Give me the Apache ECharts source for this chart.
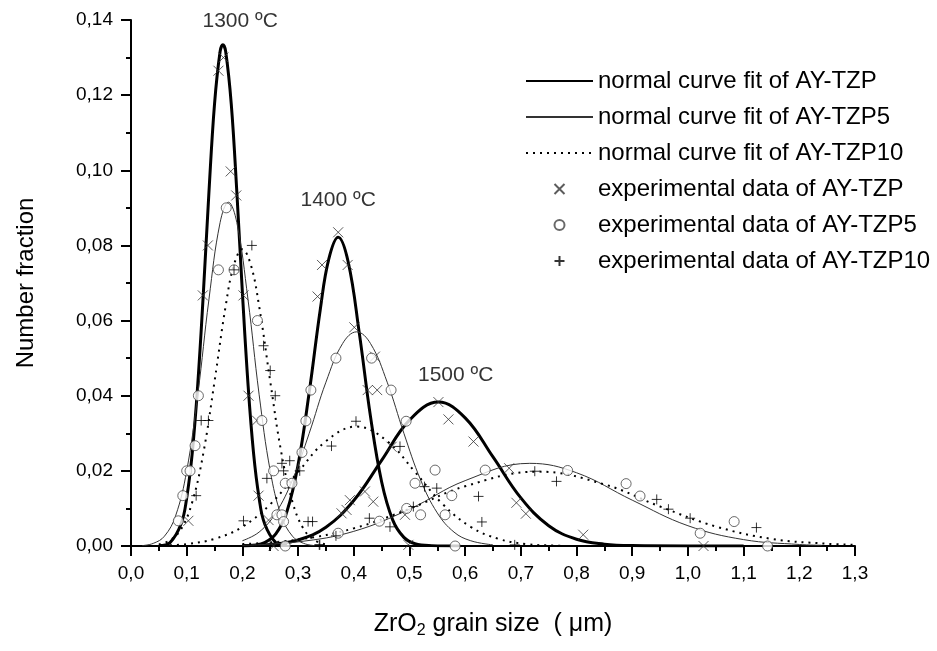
<!DOCTYPE html>
<html>
<head>
<meta charset="utf-8">
<script src="https://cdn.jsdelivr.net/npm/echarts@6/dist/echarts.min.js"></script>
<style>
  html, body { margin: 0; background: #fff; }
  #chart { width: 937px; height: 651px; }
</style>
</head>
<body>
<div id="chart"></div>
<script>
// normal curve fits as [grain size, fraction]
const fitTZP_1300 = [[0.05,0.0001],[0.07,0.0009],[0.09,0.0059],[0.10,0.0128],[0.11,0.0248],[0.12,0.0433],[0.13,0.0675],[0.14,0.0943],[0.15,0.1177],[0.16,0.1316],[0.165,0.1334],[0.17,0.1316],[0.18,0.1177],[0.19,0.0943],[0.20,0.0675],[0.21,0.0433],[0.22,0.0248],[0.23,0.0128],[0.24,0.0059],[0.26,0.0009],[0.28,0.0001]];
const fitTZP_1400 = [[0.20,0.0000],[0.22,0.0002],[0.24,0.0009],[0.26,0.0032],[0.28,0.0092],[0.30,0.0216],[0.32,0.0409],[0.34,0.0631],[0.355,0.0763],[0.372,0.0822],[0.39,0.0756],[0.41,0.0566],[0.43,0.0345],[0.45,0.0171],[0.47,0.0069],[0.49,0.0023],[0.51,0.0006],[0.54,0.0001],[0.59,0.0000]];
const fitTZP_1500 = [[0.20,0.0001],[0.25,0.0004],[0.30,0.0016],[0.35,0.0050],[0.40,0.0121],[0.45,0.0228],[0.50,0.0335],[0.552,0.0383],[0.60,0.0341],[0.65,0.0237],[0.70,0.0128],[0.75,0.0054],[0.80,0.0018],[0.85,0.0005],[0.90,0.0001],[1.00,0.0000],[1.10,0.0000]];

const fitTZP5_1300 = [[0.02,0.0001],[0.04,0.0007],[0.06,0.0026],[0.08,0.0080],[0.10,0.0200],[0.12,0.0404],[0.14,0.0657],[0.16,0.0861],[0.175,0.0915],[0.19,0.0861],[0.21,0.0657],[0.23,0.0404],[0.25,0.0200],[0.27,0.0080],[0.29,0.0026],[0.31,0.0007],[0.33,0.0001]];
const fitTZP5_1400 = [[0.20,0.0014],[0.23,0.0037],[0.26,0.0088],[0.29,0.0176],[0.32,0.0300],[0.35,0.0436],[0.38,0.0539],[0.405,0.0570],[0.43,0.0539],[0.46,0.0436],[0.49,0.0300],[0.52,0.0176],[0.55,0.0088],[0.58,0.0037],[0.61,0.0014],[0.65,0.0003]];
const fitTZP5_1500 = [[0.20,0.0002],[0.30,0.0011],[0.40,0.0039],[0.50,0.0098],[0.60,0.0174],[0.716,0.0220],[0.80,0.0195],[0.90,0.0122],[1.00,0.0054],[1.10,0.0017],[1.20,0.0004],[1.24,0.0002]];

const fitTZP10_1300 = [[0.05,0.0004],[0.07,0.0015],[0.09,0.0045],[0.11,0.0117],[0.13,0.0248],[0.15,0.0438],[0.17,0.0639],[0.185,0.0749],[0.20,0.0790],[0.215,0.0749],[0.23,0.0639],[0.25,0.0438],[0.27,0.0248],[0.29,0.0117],[0.31,0.0045],[0.33,0.0015],[0.35,0.0004]];
const fitTZP10_1400 = [[0.07,0.0002],[0.10,0.0005],[0.15,0.0019],[0.20,0.0051],[0.25,0.0111],[0.30,0.0197],[0.35,0.0279],[0.405,0.0318],[0.46,0.0279],[0.51,0.0197],[0.56,0.0111],[0.61,0.0051],[0.66,0.0019],[0.71,0.0005],[0.76,0.0001],[0.79,0.0000]];
const fitTZP10_1500 = [[0.20,0.0005],[0.30,0.0017],[0.40,0.0047],[0.50,0.0099],[0.60,0.0159],[0.73,0.0198],[0.85,0.0164],[0.95,0.0105],[1.05,0.0052],[1.15,0.0019],[1.25,0.0006],[1.30,0.0003]];

// experimental points
const expTZP_1300 = [[0.103,0.0067],[0.129,0.0667],[0.138,0.080],[0.157,0.1265],[0.166,0.130],[0.179,0.0997],[0.189,0.0933],[0.202,0.0667],[0.211,0.040],[0.226,0.0334],[0.229,0.0134],[0.247,0.0069],[0.256,0.0]];
const expTZP_1400 = [[0.335,0.0664],[0.343,0.0748],[0.372,0.0835],[0.389,0.0748],[0.401,0.0582],[0.425,0.0415],[0.438,0.0504],[0.442,0.0415],[0.498,0.0003]];
const expTZP_1500 = [[0.378,0.0087],[0.387,0.0096],[0.393,0.0122],[0.420,0.0145],[0.435,0.0118],[0.468,0.0264],[0.492,0.0083],[0.552,0.0383],[0.570,0.0337],[0.615,0.0278],[0.679,0.0207],[0.692,0.0115],[0.709,0.0086],[0.812,0.003],[1.028,0.0]];

const expTZP5_1300 = [[0.085,0.0067],[0.093,0.0134],[0.100,0.020],[0.106,0.020],[0.115,0.0267],[0.121,0.040],[0.157,0.0735],[0.171,0.090],[0.185,0.0735],[0.227,0.060],[0.235,0.0334],[0.256,0.020],[0.262,0.0083],[0.277,0.0]];
const expTZP5_1400 = [[0.271,0.0083],[0.274,0.0065],[0.277,0.0167],[0.289,0.0167],[0.307,0.0249],[0.314,0.0333],[0.323,0.0415],[0.368,0.050],[0.432,0.050],[0.467,0.0415],[0.494,0.0332],[0.510,0.0167],[0.546,0.0202],[0.576,0.0134],[0.564,0.0083],[0.582,0.0]];
const expTZP5_1500 = [[0.372,0.0034],[0.446,0.0066],[0.495,0.010],[0.520,0.0083],[0.636,0.0202],[0.784,0.0201],[0.889,0.0166],[0.914,0.0133],[1.022,0.0034],[1.083,0.0065],[1.143,0.0]];

const expTZP10_1300 = [[0.117,0.0134],[0.126,0.0334],[0.139,0.0334],[0.185,0.0735],[0.217,0.080],[0.238,0.0533],[0.250,0.0467],[0.259,0.040],[0.318,0.0065],[0.326,0.0065],[0.338,0.0003]];
const expTZP10_1400 = [[0.202,0.0067],[0.244,0.018],[0.271,0.022],[0.274,0.020],[0.285,0.0227],[0.303,0.020],[0.339,0.0003],[0.360,0.0266],[0.368,0.0027],[0.404,0.0332],[0.428,0.0074],[0.465,0.0051],[0.483,0.0265],[0.507,0.0105],[0.527,0.0158],[0.549,0.0154]];
const expTZP10_1500 = [[0.624,0.0132],[0.630,0.0064],[0.689,0.0003],[0.725,0.0199],[0.764,0.0172],[0.944,0.0124],[0.965,0.0098],[1.004,0.0074],[1.123,0.0049]];

// temperature labels
const tempText = ['1300 ºC', '1400 ºC', '1500 ºC'];
const tempX = [0.196, 0.372, 0.583];
const tempY = [0.1398, 0.0921, 0.0455];

const legendNames = [
  'normal curve fit of AY-TZP',
  'normal curve fit of AY-TZP5',
  'normal curve fit of AY-TZP10',
  'experimental data of AY-TZP',
  'experimental data of AY-TZP5',
  'experimental data of AY-TZP10'
];

const FONT = '"Liberation Sans", Arial, sans-serif';
const crossPath = 'path://M0,0L10,10M10,0L0,10';
const plusPath = 'path://M5,0L5,10M0,5L10,5';

const thick = { color: '#000', width: 3, type: 'solid' };
const thin = { color: '#333', width: 1, type: 'solid' };
const dotted = { color: '#000', width: 2, type: [2, 5] };

function fitLine(name, data, ls) {
  return {
    name: name, type: 'line', data: data, smooth: 0.4, symbol: 'none',
    lineStyle: ls, itemStyle: { color: ls.color }, silent: true, z: 2
  };
}

function points(name, data, symbol, size, style) {
  return {
    name: name, type: 'scatter', data: data, symbol: symbol, symbolSize: size,
    symbolKeepAspect: true, itemStyle: style, silent: true, z: 3
  };
}

const chart = echarts.init(document.getElementById('chart'));

chart.setOption({
  animation: false,
  textStyle: { fontFamily: FONT },
  grid: { left: 131, right: 82, top: 20, bottom: 105 },
  legend: {
    orient: 'vertical',
    left: 520,
    top: 64,
    itemWidth: 67,
    itemHeight: 10,
    itemGap: 12,
    selectedMode: false,
    // line entries: hide the dot ECharts puts in the middle of a line icon
    data: legendNames.map((n, i) => i < 3 ? { name: n, itemStyle: { opacity: 0 } } : n),
    textStyle: { fontSize: 24, color: '#000', fontFamily: FONT }
  },
  xAxis: {
    type: 'value',
    min: 0,
    max: 1.3,
    interval: 0.1,
    offset: 4,
    axisLine: { show: true, lineStyle: { color: '#000', width: 2 } },
    axisTick: { show: true, length: 10, lineStyle: { color: '#000', width: 2 } },
    minorTick: { show: true, splitNumber: 2, length: 5, lineStyle: { color: '#000', width: 2 } },
    splitLine: { show: false },
    axisLabel: {
      fontSize: 19, color: '#000', margin: 14, fontFamily: FONT,
      formatter: v => v.toFixed(1).replace('.', ',')
    },
    name: '{a|ZrO}{s|2}{a| grain size  ( μm)}',
    nameLocation: 'middle',
    nameGap: 59,
    nameTextStyle: {
      rich: {
        a: { fontSize: 25, lineHeight: 30, color: '#000', fontFamily: FONT },
        s: { fontSize: 16, lineHeight: 15, verticalAlign: 'bottom', color: '#000', fontFamily: FONT }
      }
    }
  },
  yAxis: {
    type: 'value',
    min: 0,
    max: 0.14,
    interval: 0.02,
    axisLine: { show: true, lineStyle: { color: '#000', width: 2 } },
    axisTick: { show: true, length: 10, lineStyle: { color: '#000', width: 2 } },
    minorTick: { show: true, splitNumber: 2, length: 5, lineStyle: { color: '#000', width: 2 } },
    splitLine: { show: false },
    axisLabel: {
      fontSize: 19, color: '#000', margin: 18, fontFamily: FONT,
      formatter: v => v.toFixed(2).replace('.', ',')
    },
    name: 'Number fraction',
    nameLocation: 'middle',
    nameGap: 93,
    nameTextStyle: { fontSize: 24, color: '#000', fontFamily: FONT }
  },
  series: [
    fitLine(legendNames[0], fitTZP_1300, thick),
    fitLine(legendNames[0], fitTZP_1400, thick),
    fitLine(legendNames[0], fitTZP_1500, thick),
    fitLine(legendNames[1], fitTZP5_1300, thin),
    fitLine(legendNames[1], fitTZP5_1400, thin),
    fitLine(legendNames[1], fitTZP5_1500, thin),
    fitLine(legendNames[2], fitTZP10_1300, dotted),
    fitLine(legendNames[2], fitTZP10_1400, dotted),
    fitLine(legendNames[2], fitTZP10_1500, dotted),
    points(legendNames[3], expTZP_1300.concat(expTZP_1400, expTZP_1500), crossPath, 10,
      { color: 'none', borderColor: '#333', borderWidth: 1 }),
    points(legendNames[4], expTZP5_1300.concat(expTZP5_1400, expTZP5_1500), 'circle', 10,
      { color: '#fff', borderColor: '#444', borderWidth: 1 }),
    points(legendNames[5], expTZP10_1300.concat(expTZP10_1400, expTZP10_1500), plusPath, 10,
      { color: 'none', borderColor: '#000', borderWidth: 1 }),
    {
      name: 'temperatures',
      type: 'scatter',
      silent: true,
      clip: false,
      symbolSize: 1,
      itemStyle: { color: 'rgba(0,0,0,0)' },
      data: tempText.map((t, i) => ({ name: t, value: [tempX[i], tempY[i]] })),
      label: {
        show: true, position: 'inside', formatter: '{b}',
        fontSize: 21, color: '#000', fontFamily: FONT
      },
      z: 4
    }
  ]
});
</script>
</body>
</html>
